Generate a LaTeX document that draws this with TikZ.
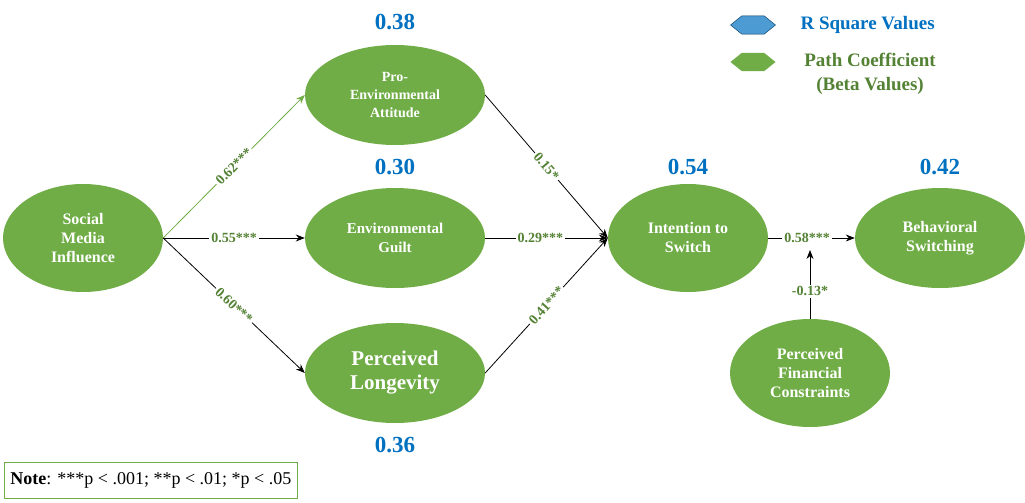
\documentclass[tikz,border=0pt]{standalone}
\usepackage{fontspec}
\setmainfont{Liberation Serif}
\usetikzlibrary{shapes.geometric,arrows.meta}
\definecolor{nodegreen}{RGB}{112,173,71}
\definecolor{coefgreen}{RGB}{84,130,53}
\definecolor{rblue}{RGB}{0,112,192}
\tikzset{
  construct/.style={ellipse,fill=nodegreen,text=white,font=\bfseries\fontsize{16}{19}\selectfont,align=center,minimum width=160pt,minimum height=108pt,inner sep=0pt},
  coef/.style={text=coefgreen,font=\bfseries\fontsize{14}{16}\selectfont,fill=white,inner sep=2pt},
  rsq/.style={text=rblue,font=\bfseries\fontsize{23}{25}\selectfont},
  path/.style={-{Stealth[length=9pt,width=7pt]},thick}
}
\begin{document}
\begin{tikzpicture}[x=1pt,y=-1pt]
\useasboundingbox (0,0) rectangle (1025,503);
		\node[construct] (smi) at (83,238) {Social\\Media\\Influence};
		\node[construct,minimum width=180pt,minimum height=100pt,font=\bfseries\fontsize{14}{18}\selectfont] (pea) at (395,95) {Pro-\\Environmental\\Attitude};
		\node[construct,minimum width=180pt,minimum height=100pt,font=\bfseries\fontsize{15}{19}\selectfont] (eg) at (395,238) {Environmental\\Guilt};
		\node[construct,minimum width=180pt,minimum height=100pt,font=\bfseries\fontsize{21}{24}\selectfont] (pl) at (395,373) {Perceived\\Longevity};
		\node[construct] (its) at (688,238) {Intention to\\Switch};
		\node[construct,minimum width=170pt,minimum height=100pt] (bs) at (940,238) {Behavioral\\Switching};
		\node[construct] (pfc) at (810,373) {Perceived\\Financial\\Constraints};
			\node[rsq] at (395,22) {0.38};
			\node[rsq] at (395,167) {0.30};
			\node[rsq] at (395,445) {0.36};
			\node[rsq] at (688,167) {0.54};
			\node[rsq] at (940,167) {0.42};
		\draw[path,nodegreen] (smi.east) -- (pea.west) node[coef,midway,sloped] {0.62***};
		\draw[path] (smi.east) -- (eg.west) node[coef,midway] {0.55***};
		\draw[path] (smi.east) -- (pl.west) node[coef,midway,sloped] {0.60***};
		\draw[path] (pea.east) -- (its.west) node[coef,midway,sloped] {0.15*};
		\draw[path] (eg.east) -- (its.west) node[coef,pos=0.45] {0.29***};
		\draw[path] (pl.east) -- (its.west) node[coef,midway,sloped] {0.41***};
		\draw[path] (its.east) -- (bs.west) node[coef,pos=0.45] {0.58***};
		\coordinate (mod) at (810,250);
		\draw[path] (pfc.north) -- (mod) node[coef,pos=0.4] {-0.13*};
			% legend
			\node[regular polygon,regular polygon sides=6,fill=rblue!70,draw=rblue!50!black,minimum width=30pt,inner sep=0pt,xscale=1.5,yscale=0.7] (lb) at (753,25) {};
			\node[regular polygon,regular polygon sides=6,fill=nodegreen,minimum width=30pt,inner sep=0pt,xscale=1.5,yscale=0.7] (lg) at (753,62) {};
			\node[rsq,font=\bfseries\fontsize{19}{21}\selectfont,anchor=west] at (797,25) {R Square Values};
			\node[coef,font=\bfseries\fontsize{19}{24}\selectfont,align=center,fill=none] at (870,74) {Path Coefficient\\(Beta Values)};
		\node[draw=nodegreen,thick,anchor=west,minimum height=36pt,font=\fontsize{18}{20}\selectfont,inner sep=6pt] (note) at (4,480) {\textbf{Note}: ***p < .001; **p < .01; *p < .05};
\end{tikzpicture}
\end{document}
